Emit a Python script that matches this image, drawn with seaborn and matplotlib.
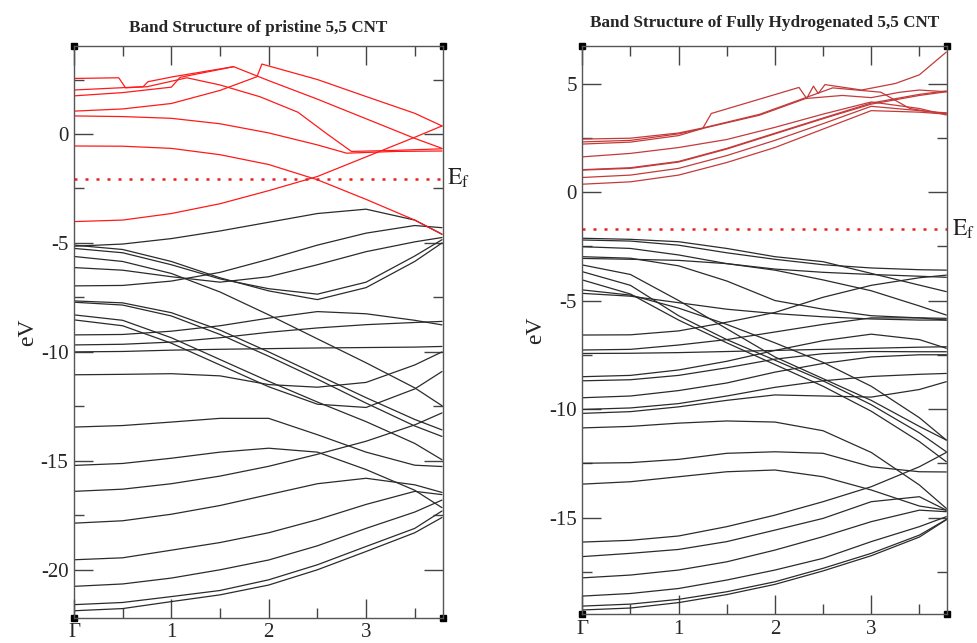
import numpy as np
import pandas as pd
import matplotlib
matplotlib.use("Agg")
import matplotlib.pyplot as plt
import seaborn as sns

# ---------------- data ----------------
K = [0, 0.5, 1.0, 1.5, 2.0, 2.5, 3.0, 3.5, 3.78]
X_TICKS = [0, 1, 2, 3]
X_LABELS = ["Γ", "1", "2", "3"]
EF_PRISTINE = -2.05
EF_HYDRO = -1.72

# pristine (5,5) CNT : valence (black) bands on grid K
pristine_valence = [
    [-5.15, -5.05, -4.80, -4.45, -4.05, -3.65, -3.45, -3.95, -4.60],
    [-6.97, -6.95, -6.75, -6.35, -5.75, -5.10, -4.55, -4.20, -4.30],
    [-5.10, -5.30, -5.85, -6.60, -7.20, -7.60, -7.05, -5.85, -5.00],
    [-5.25, -5.45, -6.00, -6.65, -7.10, -7.35, -6.80, -5.60, -4.85],
    [-6.13, -6.25, -6.55, -6.80, -6.55, -6.00, -5.40, -4.95, -4.75],
    [-5.62, -5.85, -6.40, -7.25, -8.30, -9.40, -10.50, -11.65, -12.47],
    [-7.66, -7.75, -8.20, -9.00, -10.00, -11.05, -12.10, -13.10, -13.58],
    [-7.72, -7.85, -8.35, -9.20, -10.20, -11.25, -12.35, -13.40, -13.88],
    [-8.30, -8.55, -9.35, -10.35, -11.35, -12.30, -13.20, -14.20, -14.95],
    [-8.53, -8.80, -9.60, -10.60, -11.60, -12.40, -12.55, -11.70, -10.90],
    [-11.05, -11.03, -11.00, -11.10, -11.50, -11.62, -11.40, -10.60, -10.00],
    [-9.22, -9.20, -9.05, -8.80, -8.45, -8.15, -8.25, -8.55, -8.76],
    [-9.68, -9.65, -9.55, -9.35, -9.10, -8.90, -8.75, -8.65, -8.60],
    [-10.00, -9.98, -9.92, -9.88, -9.85, -9.82, -9.80, -9.78, -9.75],
    [-13.45, -13.38, -13.22, -13.05, -13.05, -13.80, -14.60, -15.20, -15.26],
    [-15.21, -15.12, -14.88, -14.60, -14.42, -14.60, -15.40, -16.35, -17.15],
    [-16.40, -16.30, -16.05, -15.70, -15.25, -14.70, -14.10, -13.35, -12.80],
    [-17.86, -17.75, -17.45, -17.05, -16.55, -16.05, -15.80, -16.10, -16.45],
    [-19.54, -19.45, -19.10, -18.75, -18.30, -17.70, -17.00, -16.40, -16.55],
    [-20.76, -20.65, -20.38, -20.00, -19.55, -18.90, -18.10, -17.35, -16.80],
    [-21.60, -21.50, -21.23, -20.95, -20.46, -19.77, -18.93, -18.10, -17.30],
    [-21.88, -21.78, -21.46, -21.15, -20.70, -20.00, -19.16, -18.30, -17.60],
]

# pristine : conduction (red) bands, each with its own k samples
pristine_cond_k = [
    [0, 0.5, 1.0, 1.5, 2.0, 2.5, 3.0, 3.5, 3.78],
    [0, 0.5, 1.0, 1.5, 2.0, 2.5, 3.0, 3.5, 3.78],
    [0, 0.5, 1.0, 1.5, 2.0, 2.5, 2.8, 3.3, 3.78],
    [0, 0.5, 1.0, 1.5, 1.88, 1.93, 2.5, 3.0, 3.5, 3.78],
    [0, 0.5, 1.0, 1.09, 1.64, 2.0, 2.5, 3.0, 3.5, 3.78],
    [0, 0.46, 0.53, 0.75, 1.16, 1.5, 1.91, 2.3, 2.6, 2.85, 3.3, 3.78],
    [0, 0.71, 0.76, 1.02, 1.64],
]
pristine_cond_e = [
    [-4.02, -3.95, -3.65, -3.20, -2.60, -1.95, -1.05, -0.15, 0.37],
    [-0.55, -0.56, -0.66, -0.95, -1.40, -2.10, -3.00, -3.95, -4.60],
    [0.83, 0.80, 0.72, 0.47, 0.05, -0.50, -0.88, -0.80, -0.78],
    [1.05, 1.15, 1.40, 2.00, 2.63, 3.21, 2.50, 1.72, 0.95, 0.37],
    [1.75, 1.90, 2.15, 2.60, 3.09, 2.45, 1.60, 0.70, -0.20, -0.66],
    [2.55, 2.58, 2.12, 2.17, 2.58, 2.25, 1.71, 1.00, 0.00, -0.80, -0.75, -0.68],
    [2.02, 2.17, 2.40, 2.63, 3.09],
]

# fully hydrogenated (5,5) CNT : valence (black) bands on grid K
hydro_valence = [
    [-2.13, -2.18, -2.29, -2.60, -2.98, -3.21, -3.75, -4.29, -4.59],
    [-2.21, -2.26, -2.45, -2.80, -3.10, -3.35, -3.50, -3.58, -3.60],
    [-2.52, -2.60, -2.90, -3.30, -3.55, -3.70, -3.80, -3.88, -3.93],
    [-2.98, -3.05, -3.40, -4.10, -5.00, -5.40, -5.70, -5.80, -5.82],
    [-3.06, -3.10, -3.15, -3.30, -3.60, -4.05, -4.55, -5.25, -5.67],
    [-3.36, -3.80, -5.00, -6.30, -7.60, -8.60, -9.60, -10.80, -11.43],
    [-3.67, -4.30, -5.70, -6.80, -7.75, -8.70, -9.80, -11.10, -11.97],
    [-4.05, -4.70, -5.90, -6.95, -7.95, -8.95, -10.10, -11.50, -12.43],
    [-4.51, -4.75, -5.35, -6.10, -6.95, -7.85, -8.95, -10.40, -11.43],
    [-4.67, -4.80, -5.10, -5.40, -5.60, -5.75, -5.85, -5.90, -5.90],
    [-6.59, -6.58, -6.40, -6.00, -5.55, -4.85, -4.30, -3.95, -3.83],
    [-7.28, -7.25, -7.05, -6.80, -6.45, -6.10, -5.80, -5.80, -5.90],
    [-7.44, -7.43, -7.40, -7.35, -7.30, -7.25, -7.20, -7.15, -7.13],
    [-8.51, -8.45, -8.20, -7.80, -7.30, -6.85, -6.55, -6.80, -7.20],
    [-8.70, -8.65, -8.45, -8.10, -7.70, -7.45, -7.35, -7.36, -7.36],
    [-9.48, -9.40, -9.15, -8.80, -8.30, -7.90, -7.60, -7.50, -7.50],
    [-10.02, -9.95, -9.75, -9.40, -9.00, -8.70, -8.50, -8.40, -8.36],
    [-10.20, -10.12, -9.90, -9.60, -9.35, -9.40, -9.45, -9.10, -8.74],
    [-10.87, -10.80, -10.65, -10.55, -10.60, -11.00, -12.00, -13.50, -14.58],
    [-12.50, -12.47, -12.32, -12.04, -11.97, -12.04, -12.66, -12.89, -12.90],
    [-13.46, -13.35, -13.12, -12.89, -12.81, -13.12, -13.73, -14.47, -14.66],
    [-16.13, -16.05, -15.85, -15.42, -14.89, -14.27, -13.58, -12.66, -12.00],
    [-16.80, -16.65, -16.47, -16.11, -15.58, -15.04, -14.27, -14.04, -14.66],
    [-17.78, -17.65, -17.42, -17.04, -16.50, -15.88, -15.19, -14.66, -14.73],
    [-18.62, -18.50, -18.27, -17.88, -17.42, -16.88, -16.11, -15.42, -14.96],
    [-19.08, -18.99, -18.77, -18.42, -17.96, -17.34, -16.65, -15.81, -15.09],
    [-19.26, -19.17, -18.92, -18.55, -18.08, -17.46, -16.76, -15.90, -15.10],
]

# hydrogenated : conduction (red) bands
hydro_cond_k = [
    [0, 0.5, 1.0, 1.5, 2.0, 2.5, 3.0, 3.5, 3.78],
    [0, 0.5, 1.0, 1.5, 2.0, 2.5, 3.0, 3.5, 3.78],
    [0, 0.5, 1.0, 1.5, 2.0, 2.5, 3.0, 3.5, 3.78],
    [0, 0.5, 1.0, 1.5, 2.0, 2.5, 3.0, 3.5, 3.78],
    [0, 0.5, 1.0, 1.5, 2.0, 2.5, 3.0, 3.5, 3.78],
    [0, 0.5, 1.0, 1.25, 1.34, 2.25, 2.33, 2.40, 2.45, 2.52, 2.9, 3.25, 3.5, 3.78],
    [0, 0.5, 1.0, 1.25, 1.84, 2.32, 2.7, 3.0, 3.3, 3.5, 3.78],
    [0, 0.5, 1.0, 1.25, 1.84, 2.32, 2.6, 3.1, 3.4, 3.6, 3.78],
]
hydro_cond_e = [
    [0.36, 0.47, 0.78, 1.36, 2.05, 2.90, 3.75, 3.68, 3.59],
    [0.67, 0.78, 1.09, 1.68, 2.38, 3.15, 3.95, 3.75, 3.62],
    [1.01, 1.09, 1.38, 1.98, 2.68, 3.38, 4.05, 4.45, 4.62],
    [1.03, 1.12, 1.41, 2.01, 2.71, 3.41, 4.10, 4.50, 4.66],
    [1.62, 1.78, 2.05, 2.42, 2.98, 3.59, 4.15, 3.85, 3.55],
    [2.21, 2.30, 2.60, 2.93, 3.62, 4.82, 4.31, 4.88, 4.54, 4.95, 4.70, 5.00, 5.40, 6.45],
    [2.31, 2.38, 2.68, 2.93, 3.54, 4.31, 4.45, 4.35, 4.60, 4.70, 4.62],
    [2.44, 2.48, 2.72, 2.95, 3.58, 4.35, 4.80, 4.60, 3.85, 3.70, 3.65],
]


def band_frame(kgrid_list, e_list):
    rows = []
    for b, (ks, es) in enumerate(zip(kgrid_list, e_list)):
        for kk, ee in zip(ks, es):
            rows.append((b, kk, ee))
    return pd.DataFrame(rows, columns=["band", "k", "E"])


sns.set_theme(style="ticks")
plt.rcParams["font.family"] = ["Liberation Serif", "DejaVu Serif"]
plt.rcParams["mathtext.fontset"] = "stix"

fig = plt.figure(figsize=(9.77, 6.43), dpi=100)
axL = fig.add_axes([0.0757, 0.0393, 0.3777, 0.8892])
axR = fig.add_axes([0.5960, 0.0446, 0.3736, 0.8839])

panels = [
    (axL, pristine_valence, pristine_cond_k, pristine_cond_e, "#ff1a1a", EF_PRISTINE,
     (-22.2, 4.04), [-20, -15, -10, -5, 0], "Band Structure of pristine 5,5 CNT", 10),
    (axR, hydro_valence, hydro_cond_k, hydro_cond_e, "#c43a3a", EF_HYDRO,
     (-19.46, 6.73), [-15, -10, -5, 0, 5], "Band Structure of Fully Hydrogenated 5,5 CNT", 14),
]

for ax, val, ck, ce, rcol, ef, ylim, yt, title, tpad in panels:
    dv = band_frame([K] * len(val), val)
    sns.lineplot(data=dv, x="k", y="E", units="band", estimator=None, sort=False,
                 color="#2b2b2b", lw=0.9, ax=ax, legend=False)
    dc = band_frame(ck, ce)
    sns.lineplot(data=dc, x="k", y="E", units="band", estimator=None, sort=False,
                 color=rcol, lw=0.9, ax=ax, legend=False)
    ax.axhline(ef, color="#e8201e", ls=(0, (1.2, 3.2)), lw=1.8)
    ax.text(1.012, ef, r"$\mathrm{E}_{\mathrm{f}}$", transform=ax.get_yaxis_transform(),
            ha="left", va="center", fontsize=17, color="#222222")
    ax.set_xlim(0, 3.79)
    ax.set_ylim(*ylim)
    ax.set_xticks(X_TICKS)
    ax.set_xticklabels(X_LABELS)
    ax.set_xticks([0.5, 1.5, 2.5, 3.5], minor=True)
    ax.set_yticks(yt)
    ax.set_yticklabels([str(v) for v in yt])
    ax.set_yticks(np.arange(-20, 7.5, 2.5), minor=True)
    ax.set_ylim(*ylim)
    ax.tick_params(which="both", direction="in", top=True, right=True,
                   color="#444444", width=1.0, labelsize=15, pad=4)
    ax.tick_params(which="major", length=14)
    ax.tick_params(which="minor", length=7)
    for s in ax.spines.values():
        s.set_color("#555555")
        s.set_linewidth(1.0)
    ax.set_xlabel("")
    ax.set_ylabel("eV", fontsize=17, labelpad=2)
    ax.set_title(title, fontsize=12.3, fontweight="bold", pad=tpad)
    ax.plot([0, 1, 0, 1], [0, 0, 1, 1], "s", color="black", ms=5,
            transform=ax.transAxes, clip_on=False)

fig.savefig("out.png", dpi=100)
